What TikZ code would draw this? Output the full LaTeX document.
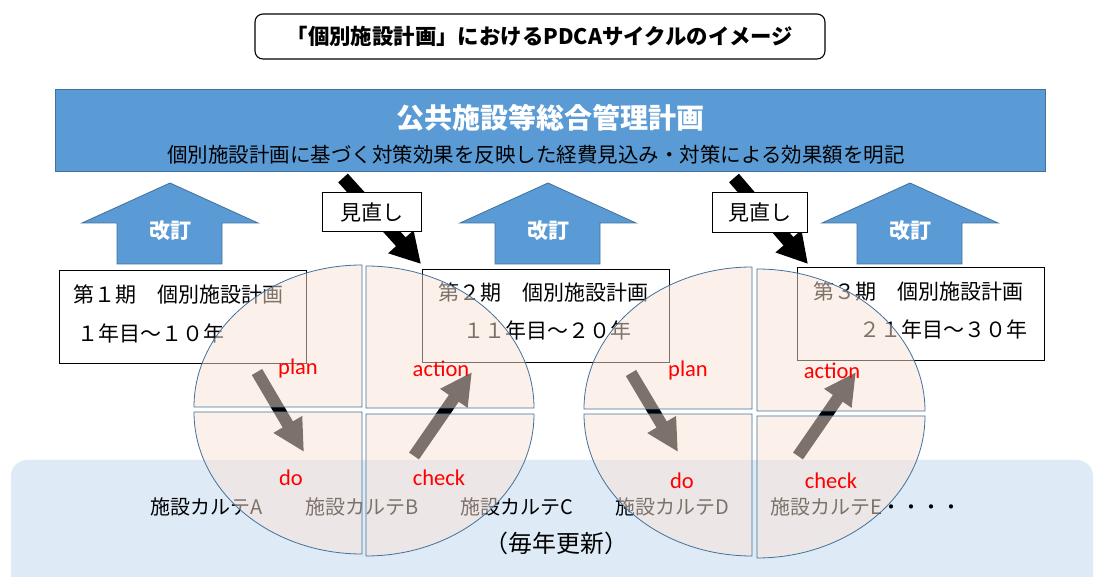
\documentclass[tikz,border=0pt]{standalone}
\usepackage{fontspec}
\setmainfont{Noto Sans CJK JP}
\newfontfamily\labfont{Carlito}
\usepackage{tikz}
\usetikzlibrary{arrows.meta}
\definecolor{planblue}{HTML}{5B9BD5}
\definecolor{planedge}{HTML}{41719C}
\definecolor{bandblue}{HTML}{DEEBF7}
\definecolor{piefill}{HTML}{FBE5D6}

\begin{document}
\begin{tikzpicture}[x=1pt,y=-1pt,
  revise/.style={fill=planblue,draw=planedge,line width=0.8pt},
  periodbox/.style={draw=black,line width=1pt,fill=white,minimum width=247pt,minimum height=93pt},
  periodtext/.style={anchor=west,inner sep=0pt,font=\fontsize{21}{25}\selectfont},
  karte/.style={anchor=west,inner sep=0pt,font=\fontsize{20}{24}\selectfont},
  quarter/.style={fill=piefill,fill opacity=0.5,draw=planedge,line width=0.8pt},
  cycle arrow/.style={line width=12pt,-{Triangle[width=31pt,length=32pt]}},
  review arrow/.style={line width=13pt,-{Triangle[width=32pt,length=30pt]}},
  pdca/.style={text=red,inner sep=0pt,font=\labfont\fontsize{22.5}{26}\selectfont}]
\clip (0,0) rectangle (1096,577);
\fill[white] (0,0) rectangle (1096,577);

% band of yearly records
\fill[bandblue,rounded corners=16pt] (11,460) rectangle (1093,640);
\node[karte] (ka) at (150,507) {施設カルテA};
\node[karte] (kb) at (305,507) {施設カルテB};
\node[karte] (kc) at (460,507) {施設カルテC};
\node[karte] (kd) at (615,507) {施設カルテD};
\node[karte] (ke) at (770,507) {施設カルテE・・・・};
\node[inner sep=0pt,font=\fontsize{24}{28}\selectfont] (yearly) at (556,543) {（毎年更新）};

% title and main plan
\node[draw,rounded corners=8pt,line width=1.1pt,minimum width=570pt,minimum height=45pt,
  font=\bfseries\fontsize{21.4}{25}\selectfont] (title) at (540,36.5) {「個別施設計画」におけるPDCAサイクルのイメージ};
\node[fill=planblue,draw=planedge,line width=0.8pt,minimum width=990pt,minimum height=82pt] (master) at (550,130) {};
\node[text=white,inner sep=0pt,font=\bfseries\fontsize{28}{31}\selectfont] (mastertitle) at (550,118) {公共施設等総合管理計画};
\node[inner sep=0pt,font=\fontsize{20.5}{24}\selectfont] (mastersub) at (536,155) {個別施設計画に基づく対策効果を反映した経費見込み・対策による効果額を明記};

% revision arrows
\draw[revise] (170,183) -- (258,223) -- (222,223) -- (222,264) -- (117,264) -- (117,223) -- (82,223) -- cycle;
\draw[revise] (548,183) -- (636,223) -- (600,223) -- (600,264) -- (495,264) -- (495,223) -- (460,223) -- cycle;
\draw[revise] (910,183) -- (998,223) -- (962,223) -- (962,264) -- (857,264) -- (857,223) -- (822,223) -- cycle;
\node[text=white,font=\bfseries\fontsize{21}{24}\selectfont] (rev1) at (170,231) {改訂};
\node[text=white,font=\bfseries\fontsize{21}{24}\selectfont] (rev2) at (548,231) {改訂};
\node[text=white,font=\bfseries\fontsize{21}{24}\selectfont] (rev3) at (910,231) {改訂};

% periods
\node[periodbox] (term1) at (182.5,317.5) {};
\node[periodbox] (term2) at (545.5,316.5) {};
\node[periodbox] (term3) at (920.5,314.5) {};
\node[periodtext] (t1a) at (73,295) {第１期　個別施設計画};
\node[periodtext] (t1b) at (77,333) {１年目～１０年};
\node[periodtext] (t2a) at (438,293) {第２期　個別施設計画};
\node[periodtext] (t2b) at (463,330) {１１年目～２０年};
\node[periodtext] (t3a) at (813,292) {第３期　個別施設計画};
\node[periodtext] (t3b) at (859,329) {２１年目～３０年};

% review arrows
\coordinate (r1s) at (343,178);
\coordinate (r1e) at (421,264);
\coordinate (r2s) at (734,178);
\coordinate (r2e) at (808,264);
\draw[review arrow] (r1s) -- (r1e);
\draw[review arrow] (r2s) -- (r2e);
\node[draw,fill=white,line width=1pt,minimum width=99pt,minimum height=39pt,font=\fontsize{21}{24}\selectfont] (look1) at (371.5,212.5) {見直し};
\node[draw,fill=white,line width=1pt,minimum width=95pt,minimum height=40pt,font=\fontsize{21}{24}\selectfont] (look2) at (759.5,213) {見直し};

% cycle arrows
\coordinate (p1) at (257,372);
\coordinate (d1) at (304,452);
\coordinate (c1) at (414,456);
\coordinate (a1) at (472,372);
\coordinate (p2) at (631,373);
\coordinate (d2) at (678,452);
\coordinate (c2) at (798,456);
\coordinate (a2) at (856,372);
\draw[cycle arrow] (p1) -- (d1);
\draw[cycle arrow] (c1) -- (a1);
\draw[cycle arrow] (p2) -- (d2);
\draw[cycle arrow] (c2) -- (a2);

% first cycle
\draw[quarter] (362,407) -- ++(0,-142) arc[start angle=90,end angle=180,x radius=168pt,y radius=142pt] -- cycle;
\draw[quarter] (366,408) -- ++(0,-142) arc[start angle=90,end angle=0,x radius=168pt,y radius=142pt] -- cycle;
\draw[quarter] (362,412) -- ++(-168,0) arc[start angle=180,end angle=270,x radius=168pt,y radius=142pt] -- cycle;
\draw[quarter] (366,414) -- ++(168,0) arc[start angle=0,end angle=-90,x radius=168pt,y radius=142pt] -- cycle;
% second cycle
\draw[quarter] (752,409) -- ++(0,-142) arc[start angle=90,end angle=180,x radius=168pt,y radius=142pt] -- cycle;
\draw[quarter] (757,411) -- ++(0,-142) arc[start angle=90,end angle=0,x radius=168pt,y radius=142pt] -- cycle;
\draw[quarter] (752,414) -- ++(-168,0) arc[start angle=180,end angle=270,x radius=168pt,y radius=142pt] -- cycle;
\draw[quarter] (757,416) -- ++(168,0) arc[start angle=0,end angle=-90,x radius=168pt,y radius=142pt] -- cycle;

\node[pdca] (plan1) at (298,369) {plan};
\node[pdca] (act1) at (441,369) {action};
\node[pdca] (do1) at (291,478) {do};
\node[pdca] (chk1) at (439,478) {check};
\node[pdca] (plan2) at (688,371) {plan};
\node[pdca] (act2) at (832,371) {action};
\node[pdca] (do2) at (682,481) {do};
\node[pdca] (chk2) at (831,481) {check};
\end{tikzpicture}
\end{document}
